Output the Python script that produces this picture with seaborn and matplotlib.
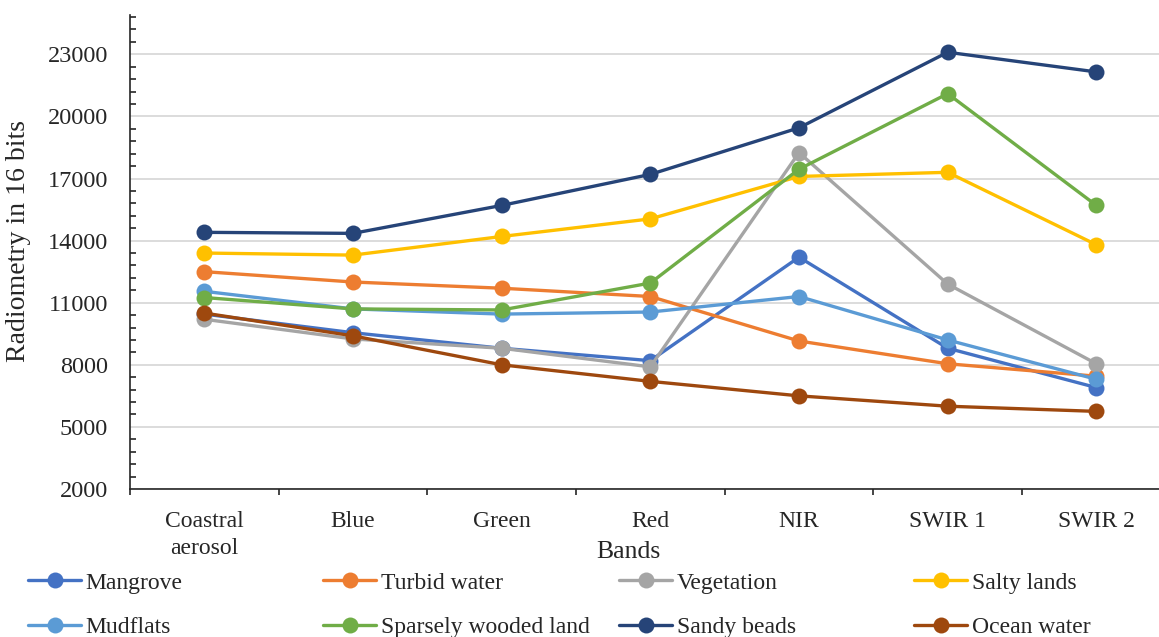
# Radiometry profiles of land cover classes across Landsat bands

import numpy as np
import pandas as pd
import matplotlib
matplotlib.use("Agg")
import matplotlib.pyplot as plt
import seaborn as sns

# Data
bands = ["Coastral\naerosol", "Blue", "Green", "Red", "NIR", "SWIR 1", "SWIR 2"]
classes = ["Mangrove", "Turbid water", "Vegetation", "Salty lands",
           "Mudflats", "Sparsely wooded land", "Sandy beads", "Ocean water"]
mangrove = [10450, 9550, 8800, 8200, 13200, 8800, 6900]
turbid_water = [12500, 12000, 11700, 11300, 9150, 8050, 7450]
vegetation = [10200, 9250, 8800, 7900, 18250, 11900, 8050]
salty_lands = [13400, 13300, 14200, 15050, 17100, 17300, 13800]
mudflats = [11550, 10700, 10450, 10550, 11300, 9200, 7300]
sparsely_wooded = [11250, 10700, 10650, 11950, 17450, 21100, 15700]
sandy_beads = [14400, 14350, 15700, 17200, 19450, 23100, 22150]
ocean_water = [10500, 9400, 8000, 7200, 6500, 6000, 5750]

colors = ["#4472C4", "#ED7D31", "#A5A5A5", "#FFC000",
          "#5B9BD5", "#70AD47", "#264478", "#9E480E"]

series = [mangrove, turbid_water, vegetation, salty_lands,
          mudflats, sparsely_wooded, sandy_beads, ocean_water]
rows = []
for name, vals in zip(classes, series):
    for b, v in zip(bands, vals):
        rows.append({"Band": b, "Class": name, "Value": v})
df = pd.DataFrame(rows)

sns.set_theme(style="white")
plt.rcParams["font.family"] = ["Liberation Serif", "DejaVu Serif"]

fig = plt.figure(figsize=(11.59, 6.37), dpi=100)
ax = fig.add_axes([130 / 1159, (637 - 489) / 637, 1040.7 / 1159, 474 / 637])

sns.lineplot(data=df, x="Band", y="Value", hue="Class", hue_order=classes,
             palette=colors, sort=False, marker="o", markersize=11.5,
             markeredgewidth=0, linewidth=2.4, legend=False, ax=ax)

# axes styling
ax.set_xlim(-0.5, 6.5)
ax.set_ylim(2000, 24900)
ax.set_yticks(np.arange(2000, 24000, 3000))
ax.set_yticks(np.arange(2000, 24900, 600), minor=True)
ax.set_xticks(range(len(bands)))
ax.set_xticklabels(bands, linespacing=1.4)
ax.set_xticks(np.arange(-0.5, 7, 1), minor=True)
ax.grid(axis="y", which="major", color="#D9D9D9", linewidth=1.3)
ax.grid(axis="x", visible=False)
for s in ["top", "right"]:
    ax.spines[s].set_visible(False)
for s in ["left", "bottom"]:
    ax.spines[s].set_color("#262626")
    ax.spines[s].set_linewidth(1.2)

ax.tick_params(axis="y", which="major", direction="inout", length=10, width=1.2,
               color="#262626", pad=11, labelsize=17.5)
ax.tick_params(axis="y", which="minor", direction="in", length=4.5, width=1.2,
               color="#262626", left=True)
ax.tick_params(axis="x", which="major", length=0, pad=15.5, labelsize=17)
ax.tick_params(axis="x", which="minor", direction="out", length=4.5, width=1.2,
               color="#262626", bottom=True)

ax.set_xlabel("Bands", fontsize=18.5)
ax.xaxis.label.set_va("center")
ax.xaxis.set_label_coords(0.4785, -0.1330)
ax.set_ylabel("Radiometry in 16 bits", fontsize=20)
ax.yaxis.label.set_va("center")
ax.yaxis.set_label_coords(-0.1076, 0.523)

# legend: 2 rows x 4 columns, equal column widths
handles = ax.lines[:len(classes)]
col_x = [28, 323, 619, 914]
for j, x in enumerate(col_x):
    fig.legend([handles[j], handles[j + 4]], [classes[j], classes[j + 4]],
               loc="upper left", bbox_to_anchor=(x / 1159, 0.1017),
               frameon=False, fontsize=17, handlelength=2.25,
               handletextpad=0.2, labelspacing=0.96, borderpad=0,
               borderaxespad=0, numpoints=1)

fig.savefig("out.png", dpi=100)
